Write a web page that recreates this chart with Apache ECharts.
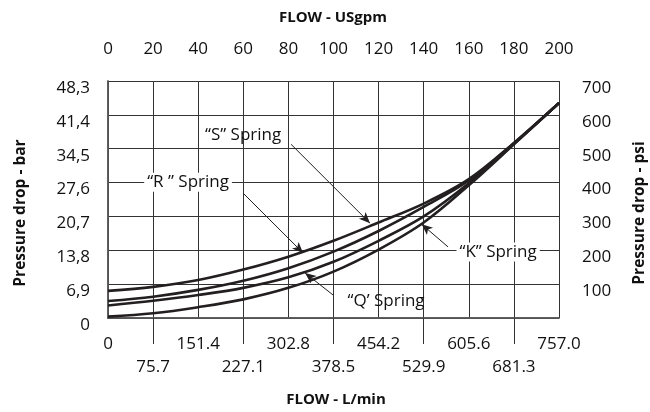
<!DOCTYPE html>
<html>
<head>
<meta charset="utf-8">
<script src="https://cdn.jsdelivr.net/npm/echarts@6/dist/echarts.min.js"></script>
<style>html,body{margin:0;padding:0;background:#fff}#c{width:650px;height:412px}</style>
</head>
<body>
<div id="c"></div>
<script>
// Tick labels
const gpmTicks = ['0','20','40','60','80','100','120','140','160','180','200'];
const lpmTicks = ['0','75.7','151.4','227.1','302.8','378.5','454.2','529.9','605.6','681.3','757.0'];
const barTicks = ['0','6,9','13,8','20,7','27,6','34,5','41,4','48,3'];
const psiTicks = ['','100','200','300','400','500','600','700'];

// Flow (USgpm) and pressure drop (psi) per spring
const flowGpm = [0, 20, 40, 60, 80, 100, 120, 140, 160, 180, 200];
const sSpring = [80, 92, 112, 143, 181, 228, 282, 338, 410, 517, 635];
const rSpring = [50, 63, 83, 110, 147, 196, 257, 328, 406, 516, 635];
const qSpring = [37, 51, 68, 89, 120, 166, 228, 300, 398, 514, 635];
const kSpring = [4, 14, 32, 55, 89, 137, 202, 282, 392, 513, 635];

// Annotation labels and arrows (data coords: gpm, psi)
const springNames = ['“S” Spring', '“R ” Spring', '“Q’ Spring', '“K” Spring'];
const labelPos = [[59.9, 540], [35.5, 401], [123.3, 50], [173, 195]];
const arrowFrom = [[81.2, 513], [59.9, 369], [99.8, 68], [150.8, 210]];
const arrowTo = [[116.2, 280], [86.5, 192], [87.4, 133], [139.1, 277]];
const labelBg = [false, true, false, true];

const FONT = 'Open Sans';
const INK = '#231f20';
const GRID = '#333';

function toPairs(ys) { return flowGpm.map((x, i) => [x, ys[i]]); }

function makeSeries(name, ys, idx) {
  return {
    name: name, type: 'line', data: toPairs(ys), smooth: 0.35,
    symbol: 'none', lineStyle: { color: INK, width: 2.6 },
    itemStyle: { color: INK }, silent: true, animation: false, z: 3,
    markLine: {
      silent: true, animation: false, symbol: ['none', 'arrow'], symbolSize: [7, 11],
      lineStyle: { color: INK, width: 1, type: 'solid' }, label: { show: false },
      itemStyle: { color: INK },
      emphasis: { disabled: true },
      data: [[{ coord: arrowFrom[idx] }, { coord: arrowTo[idx] }]]
    },
    markPoint: {
      silent: true, animation: false, symbol: 'circle', symbolSize: 1,
      itemStyle: { color: 'rgba(0,0,0,0)' },
      label: {
        show: true, position: 'inside', formatter: '{b}', color: '#111',
        fontFamily: FONT, fontSize: 17,
        backgroundColor: labelBg[idx] ? '#fff' : 'transparent',
        padding: labelBg[idx] ? [1, 3, 1, 3] : 0
      },
      data: [{ name: springNames[idx], coord: labelPos[idx] }]
    }
  };
}

const chart = echarts.init(document.getElementById('c'), null, { renderer: 'canvas' });
const tickFont = { fontFamily: FONT, fontSize: 17, color: '#111' };
const borderLine = { show: true, lineStyle: { color: '#555', width: 1.5 } };

chart.setOption({
  animation: false,
  backgroundColor: '#fff',
  grid: { left: 108, right: 91, top: 81, bottom: 94, containLabel: false },
  xAxis: [
    {
      type: 'value', position: 'top', min: 0, max: 200, interval: 20,
      axisLine: borderLine, axisTick: { show: false },
      splitLine: { show: true, lineStyle: { color: GRID, width: 1 } },
      axisLabel: Object.assign({ margin: 23, formatter: v => gpmTicks[Math.round(v / 20)] }, tickFont)
    },
    {
      type: 'value', position: 'bottom', min: 0, max: 200, interval: 20,
      axisLine: borderLine, axisTick: { show: false }, splitLine: { show: false },
      axisLabel: Object.assign({
        margin: 15, lineHeight: 23,
        formatter: v => { const i = Math.round(v / 20); return (i % 2 ? '\n' : '') + lpmTicks[i]; }
      }, tickFont)
    },
    {
      type: 'value', position: 'bottom', min: 0, max: 200, interval: 20,
      axisLine: { show: false }, splitLine: { show: false }, axisLabel: { show: false },
      axisTick: { show: true, length: 26, customValues: [20, 60, 100, 140, 180], lineStyle: { color: GRID, width: 1 } }
    }
  ],
  yAxis: [
    {
      type: 'value', position: 'left', min: 0, max: 700, interval: 100,
      axisLine: borderLine, axisTick: { show: false },
      splitLine: { show: true, lineStyle: { color: GRID, width: 1 } },
      axisLabel: Object.assign({ margin: 18, verticalAlign: 'top', lineHeight: 14,
        formatter: v => barTicks[Math.round(v / 100)] }, tickFont)
    },
    {
      type: 'value', position: 'right', min: 0, max: 700, interval: 100,
      axisLine: borderLine, axisTick: { show: false }, splitLine: { show: false },
      axisLabel: Object.assign({ margin: 23, verticalAlign: 'top', lineHeight: 14,
        formatter: v => psiTicks[Math.round(v / 100)] }, tickFont)
    }
  ],
  graphic: [
    { type: 'text', x: 333, y: 18, style: { text: 'FLOW - USgpm', fontFamily: FONT, fontSize: 15, fontWeight: 'bold', fill: '#111', align: 'center', verticalAlign: 'middle' } },
    { type: 'text', x: 336, y: 400, style: { text: 'FLOW - L/min', fontFamily: FONT, fontSize: 15, fontWeight: 'bold', fill: '#111', align: 'center', verticalAlign: 'middle' } },
    { type: 'text', x: 21, y: 213, rotation: Math.PI / 2, style: { text: 'Pressure drop - bar', fontFamily: FONT, fontSize: 15.5, fontWeight: 'bold', fill: '#111', align: 'center', verticalAlign: 'middle' } },
    { type: 'text', x: 640, y: 213, rotation: Math.PI / 2, style: { text: 'Pressure drop - psi', fontFamily: FONT, fontSize: 15.5, fontWeight: 'bold', fill: '#111', align: 'center', verticalAlign: 'middle' } }
  ],
  series: [
    makeSeries('S', sSpring, 0),
    makeSeries('R', rSpring, 1),
    makeSeries('Q', qSpring, 2),
    makeSeries('K', kSpring, 3)
  ]
});
</script>
</body>
</html>
